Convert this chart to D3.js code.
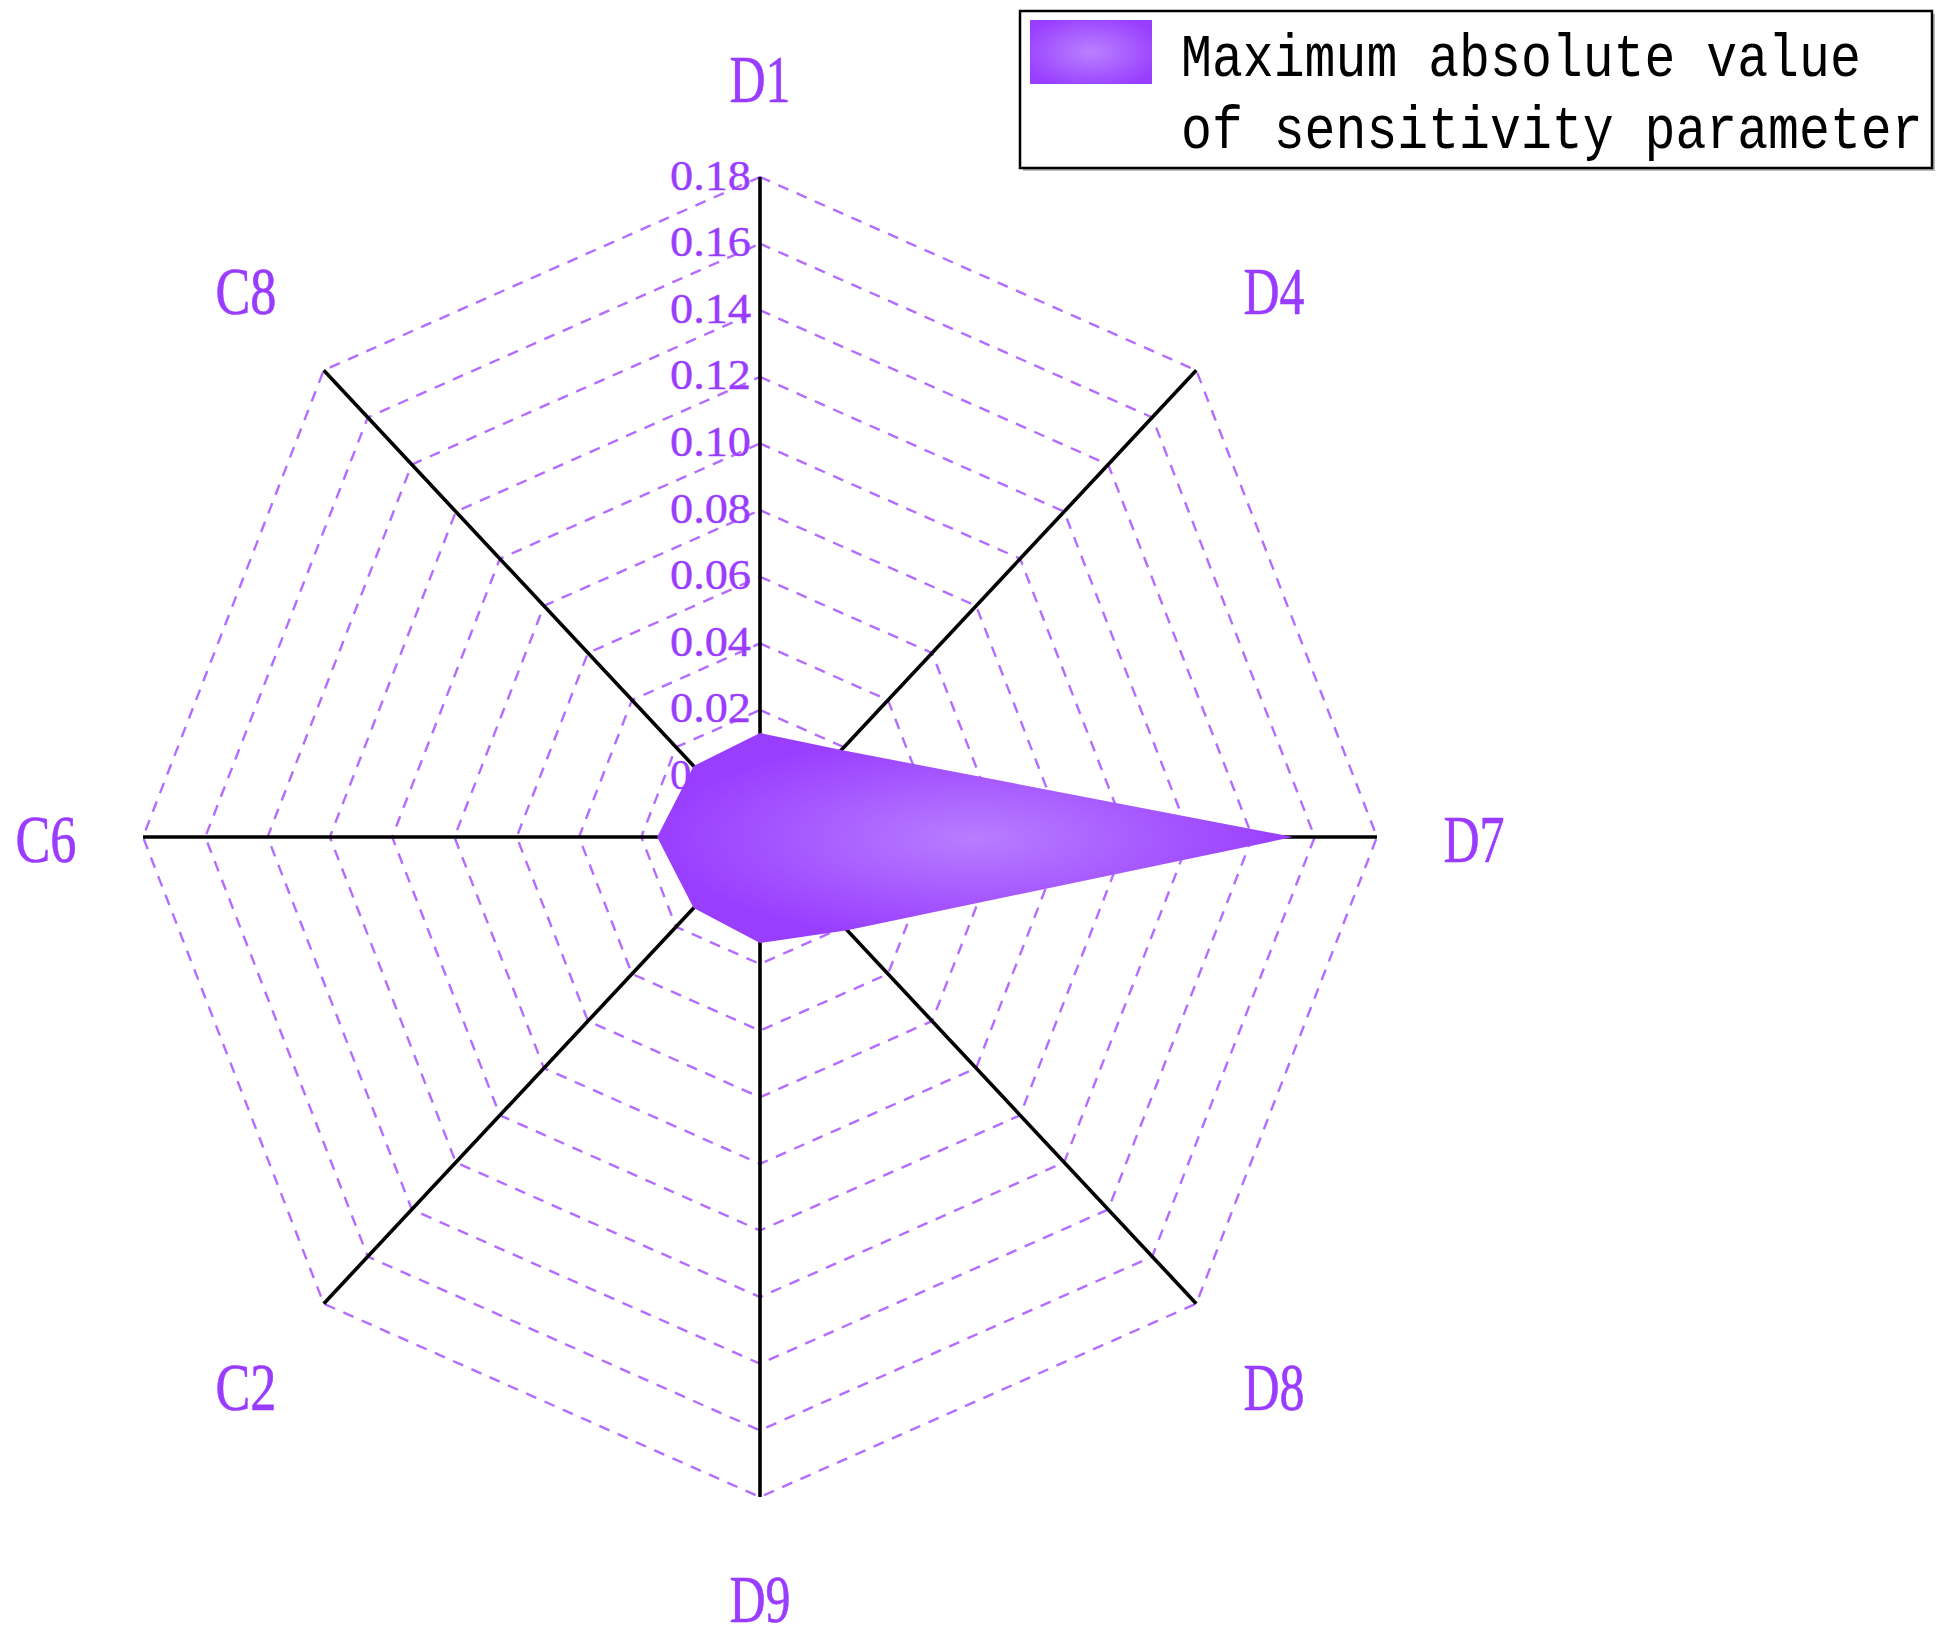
<!DOCTYPE html>
<html>
<head>
<meta charset="utf-8">
<script src="https://cdn.jsdelivr.net/npm/d3@7"></script>
<style>
  html, body { margin: 0; padding: 0; background: #ffffff; }
  svg { display: block; }
</style>
</head>
<body>
<script>
// ---- data ----
const categories = ["D1", "D4", "D7", "D8", "D9", "C2", "C6", "C8"];
const values = [0.0131, 0.0188, 0.153, 0.0215, 0.0137, 0.012, 0.0149, 0.012];
const tickValues = [0, 0.02, 0.04, 0.06, 0.08, 0.10, 0.12, 0.14, 0.16, 0.18];
const tickLabels = ["0", "0.02", "0.04", "0.06", "0.08", "0.10", "0.12", "0.14", "0.16", "0.18"];
const legendLines = ["Maximum absolute value", "of sensitivity parameter"];

// ---- layout ----
const W = 1946, H = 1639;
const cx = 760, cy = 837, rx = 617, ry = 660;
const labelColor = "#9a3cff";
const gridColor = "#b46cff";

const svg = d3.select("body").append("svg").attr("width", W).attr("height", H);

const defs = svg.append("defs");
const grad = defs.append("radialGradient").attr("id", "fillGrad")
  .attr("cx", "0.5").attr("cy", "0.5").attr("r", "0.5");
grad.append("stop").attr("offset", "0%").attr("stop-color", "#b87dff");
grad.append("stop").attr("offset", "100%").attr("stop-color", "#993dff");

const grad2 = defs.append("radialGradient").attr("id", "legGrad")
  .attr("cx", "0.5").attr("cy", "0.5").attr("r", "0.6");
grad2.append("stop").attr("offset", "0%").attr("stop-color", "#b981ff");
grad2.append("stop").attr("offset", "100%").attr("stop-color", "#993dff");

const rScale = d3.scaleLinear().domain([0, 0.18]).range([0.0915, 1]);
const angle = d3.scaleBand().domain(categories).range([0, 2 * Math.PI]).paddingInner(0).paddingOuter(0);
const ang = c => angle(c);
const px = (c, f) => cx + rx * f * Math.sin(ang(c));
const py = (c, f) => cy - ry * f * Math.cos(ang(c));

const lineGen = d3.line().x(d => d[0]).y(d => d[1]).curve(d3.curveLinearClosed);

// grid rings
svg.append("g").selectAll("path").data(tickValues).join("path")
  .attr("d", v => lineGen(categories.map(c => [px(c, rScale(v)), py(c, rScale(v))])))
  .attr("fill", "none")
  .attr("stroke", gridColor)
  .attr("stroke-width", 2.4)
  .attr("stroke-dasharray", "11,9");

// axes
svg.append("g").selectAll("line").data(categories).join("line")
  .attr("x1", cx).attr("y1", cy)
  .attr("x2", c => px(c, 1)).attr("y2", c => py(c, 1))
  .attr("stroke", "#000").attr("stroke-width", 3.6);

// data polygon
svg.append("path")
  .attr("d", lineGen(categories.map((c, i) => [px(c, rScale(values[i])), py(c, rScale(values[i]))])))
  .attr("fill", "url(#fillGrad)")
  .attr("stroke", "none");

// tick labels
svg.append("g").selectAll("text").data(tickValues).join("text")
  .attr("x", 670)
  .attr("y", v => cy - ry * rScale(v) - 2)
  .attr("dominant-baseline", "central")
  .attr("font-family", "Liberation Serif, serif")
  .attr("font-size", 43)
  .attr("fill", labelColor)
  .attr("stroke", labelColor).attr("stroke-width", 0.4)
  .attr("textLength", (v, i) => tickLabels[i].length > 1 ? 81 : null)
  .attr("lengthAdjust", "spacingAndGlyphs")
  .text((v, i) => tickLabels[i]);

// category labels
const diag = c => Math.abs(Math.sin(ang(c)) * Math.cos(ang(c))) > 0.1;
svg.append("g").selectAll("text").data(categories).join("text")
  .attr("x", c => cx + (rx + (diag(c) ? 110 : 97)) * Math.sin(ang(c)))
  .attr("y", c => cy - (ry + (diag(c) ? 115 : 100)) * Math.cos(ang(c)) + 2)
  .attr("text-anchor", "middle")
  .attr("dominant-baseline", "central")
  .attr("font-family", "Liberation Serif, serif")
  .attr("font-size", 68)
  .attr("fill", labelColor)
  .attr("stroke", labelColor).attr("stroke-width", 0.6)
  .attr("textLength", 61)
  .attr("lengthAdjust", "spacingAndGlyphs")
  .text(c => c);

// legend
const leg = svg.append("g");
leg.append("rect").attr("x", 1023).attr("y", 14).attr("width", 912).attr("height", 157)
  .attr("fill", "#bbb");
leg.append("rect").attr("x", 1020).attr("y", 11).attr("width", 912).attr("height", 157)
  .attr("fill", "#fff").attr("stroke", "#000").attr("stroke-width", 2.5);
leg.append("rect").attr("x", 1030).attr("y", 20).attr("width", 122).attr("height", 64)
  .attr("fill", "url(#legGrad)");
leg.selectAll("text.l").data(legendLines).join("text").attr("class", "l")
  .attr("transform", (d, i) => `translate(1181, ${76 + i * 72}) scale(1, 1.2)`)
  .attr("font-family", "Liberation Mono, monospace")
  .attr("font-size", 51.5)
  .attr("fill", "#000")
  .text(d => d);
</script>
</body>
</html>
